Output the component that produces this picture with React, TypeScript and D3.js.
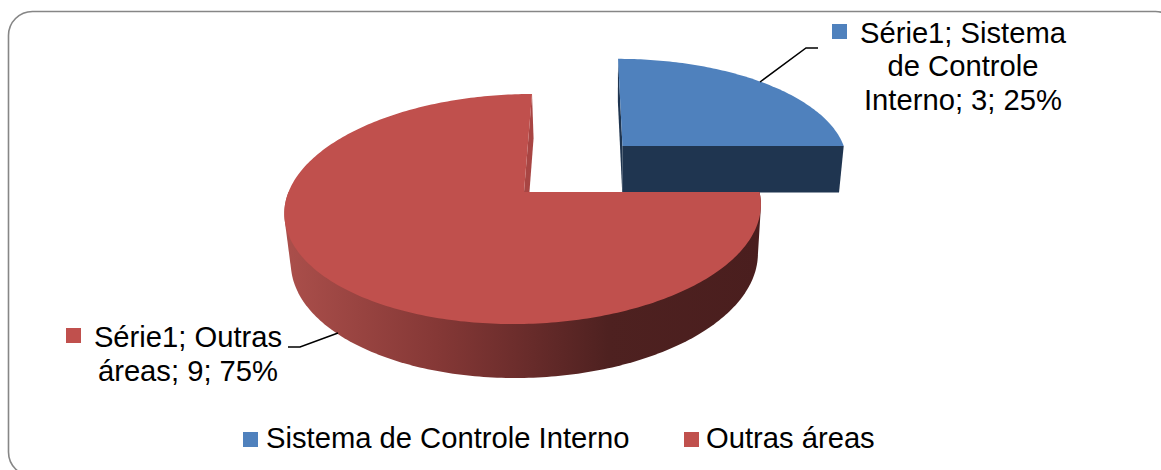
import * as d3 from 'd3';

const categories = ['Sistema de Controle Interno', 'Outras áreas'];
const values = [3, 9];
const percents = ['25%', '75%'];
const seriesName = 'Série1';
const topColors = ['#4f81bd', '#c0504d'];
const faceColors = ['#1f3550', '#a84543'];
const wallStops = ['#ab4f4b', '#853836', '#6c2d2c', '#4e2120', '#4a1e1e'];
const wallOffsets = [0, 0.32, 0.49, 0.68, 1];

const W = 1161;
const H = 470;

// perspective set-up of the pie plane
const cx = 524;
const cy = 192;
const R = 235.5;
const Rk = 112.5;
const persp = 0.148;
const shear = 9.2;
const depth = 48.5;
const vanishX = 610;
const blueOffset: [number, number] = [0.428, 0.435];

const project = (u: number, v: number, lower = false): [number, number] => {
  const s = 1 / (1 + persp * v);
  let x = cx + (R * u + shear * v) * s;
  let y = cy - Rk * v * s;
  if (lower) {
    x = vanishX + (x - vanishX) * 0.98;
    y += depth * Math.pow(s, 0.67);
  }
  return [x, y];
};

const ring = (a0: number, a1: number, off: [number, number], lower = false) => {
  const n = Math.max(2, Math.round(Math.abs(a1 - a0) * 60));
  return d3.range(n + 1).map((i) => {
    const a = a0 + ((a1 - a0) * i) / n;
    // d3 pie angles: 0 at north, clockwise
    return project(off[0] + Math.sin(a), off[1] + Math.cos(a), lower);
  });
};

const line = d3.line<[number, number]>();
const pathOf = (pts: [number, number][]) => line(pts) + 'Z';

export default function App() {
  const pie = d3.pie<number>().sort(null);
  const [blue, red] = pie(values);
  const zero: [number, number] = [0, 0];

  const blueCap = [project(...blueOffset), ...ring(blue.startAngle, blue.endAngle, blueOffset)];
  const blueSouth = [
    project(...blueOffset),
    ring(blue.endAngle, blue.endAngle, blueOffset)[0],
    ring(blue.endAngle, blue.endAngle, blueOffset, true)[0],
    project(blueOffset[0], blueOffset[1], true),
  ];
  const blueWest = [
    project(...blueOffset),
    ring(blue.startAngle, blue.startAngle, blueOffset)[0],
    ring(blue.startAngle, blue.startAngle, blueOffset, true)[0],
    project(blueOffset[0], blueOffset[1], true),
  ];

  const redCap = [project(0, 0), ...ring(red.startAngle, red.endAngle, zero)];
  const redNorth = [
    project(0, 0),
    ring(red.endAngle, red.endAngle, zero)[0],
    ring(red.endAngle, red.endAngle, zero, true)[0],
    project(0, 0, true),
  ];
  // outer wall: hull of both rims, from the east corner round the front to the west point
  const wallEnd = red.startAngle + Math.PI;
  const redWall = d3.polygonHull([
    ...ring(red.startAngle, wallEnd, zero),
    ...ring(red.startAngle, wallEnd, zero, true),
  ]) as [number, number][];

  const gradX = d3.extent(redWall, (p) => p[0]) as [number, number];

  return (
    <svg
      width={W}
      height={H}
      viewBox={`0 0 ${W} ${H}`}
      style={{ position: 'absolute', left: 0, top: 0, display: 'block' }}
      fontFamily="'Liberation Sans', Arial, sans-serif"
      fontSize={29.2}
      fill="#000"
    >
      <defs>
        <linearGradient id="wall" gradientUnits="userSpaceOnUse" x1={gradX[0]} x2={gradX[1]} y1={0} y2={0}>
          {wallStops.map((c, i) => (
            <stop key={c} offset={wallOffsets[i]} stopColor={c} />
          ))}
        </linearGradient>
      </defs>

      <rect x={8.5} y={11.5} width={1171} height={464.5} rx={24} ry={24} fill="#fff" stroke="#868686" strokeWidth={1.6} />

      <path d={pathOf(blueWest)} fill={faceColors[0]} />
      <path d={pathOf(blueSouth)} fill={faceColors[0]} />
      <path d={pathOf(blueCap)} fill={topColors[0]} />

      <path d={pathOf(redWall)} fill="url(#wall)" />
      <path d={pathOf(redNorth)} fill={faceColors[1]} />
      <path d={pathOf(redCap)} fill={topColors[1]} />

      <polyline points="760,82 806,48 818,48" fill="none" stroke="#000" strokeWidth={1.5} />
      <polyline points="288,347 300,347 338,333" fill="none" stroke="#000" strokeWidth={1.5} />

      <rect x={832} y={24} width={15} height={15} fill={topColors[0]} />
      <text textAnchor="middle">
        <tspan x={963} y={42.5}>{`${seriesName}; Sistema`}</tspan>
        <tspan x={963} y={76}>de Controle</tspan>
        <tspan x={963} y={109.5}>{`Interno; ${values[0]}; ${percents[0]}`}</tspan>
      </text>

      <rect x={66} y={328} width={15} height={15} fill={topColors[1]} />
      <text textAnchor="middle">
        <tspan x={188} y={347}>{`${seriesName}; Outras`}</tspan>
        <tspan x={188} y={381}>{`áreas; ${values[1]}; ${percents[1]}`}</tspan>
      </text>

      <rect x={243} y={432} width={15} height={15} fill={topColors[0]} />
      <text x={266} y={448}>{categories[0]}</text>
      <rect x={684} y={432} width={15} height={15} fill={topColors[1]} />
      <text x={706} y={448}>{categories[1]}</text>
    </svg>
  );
}
